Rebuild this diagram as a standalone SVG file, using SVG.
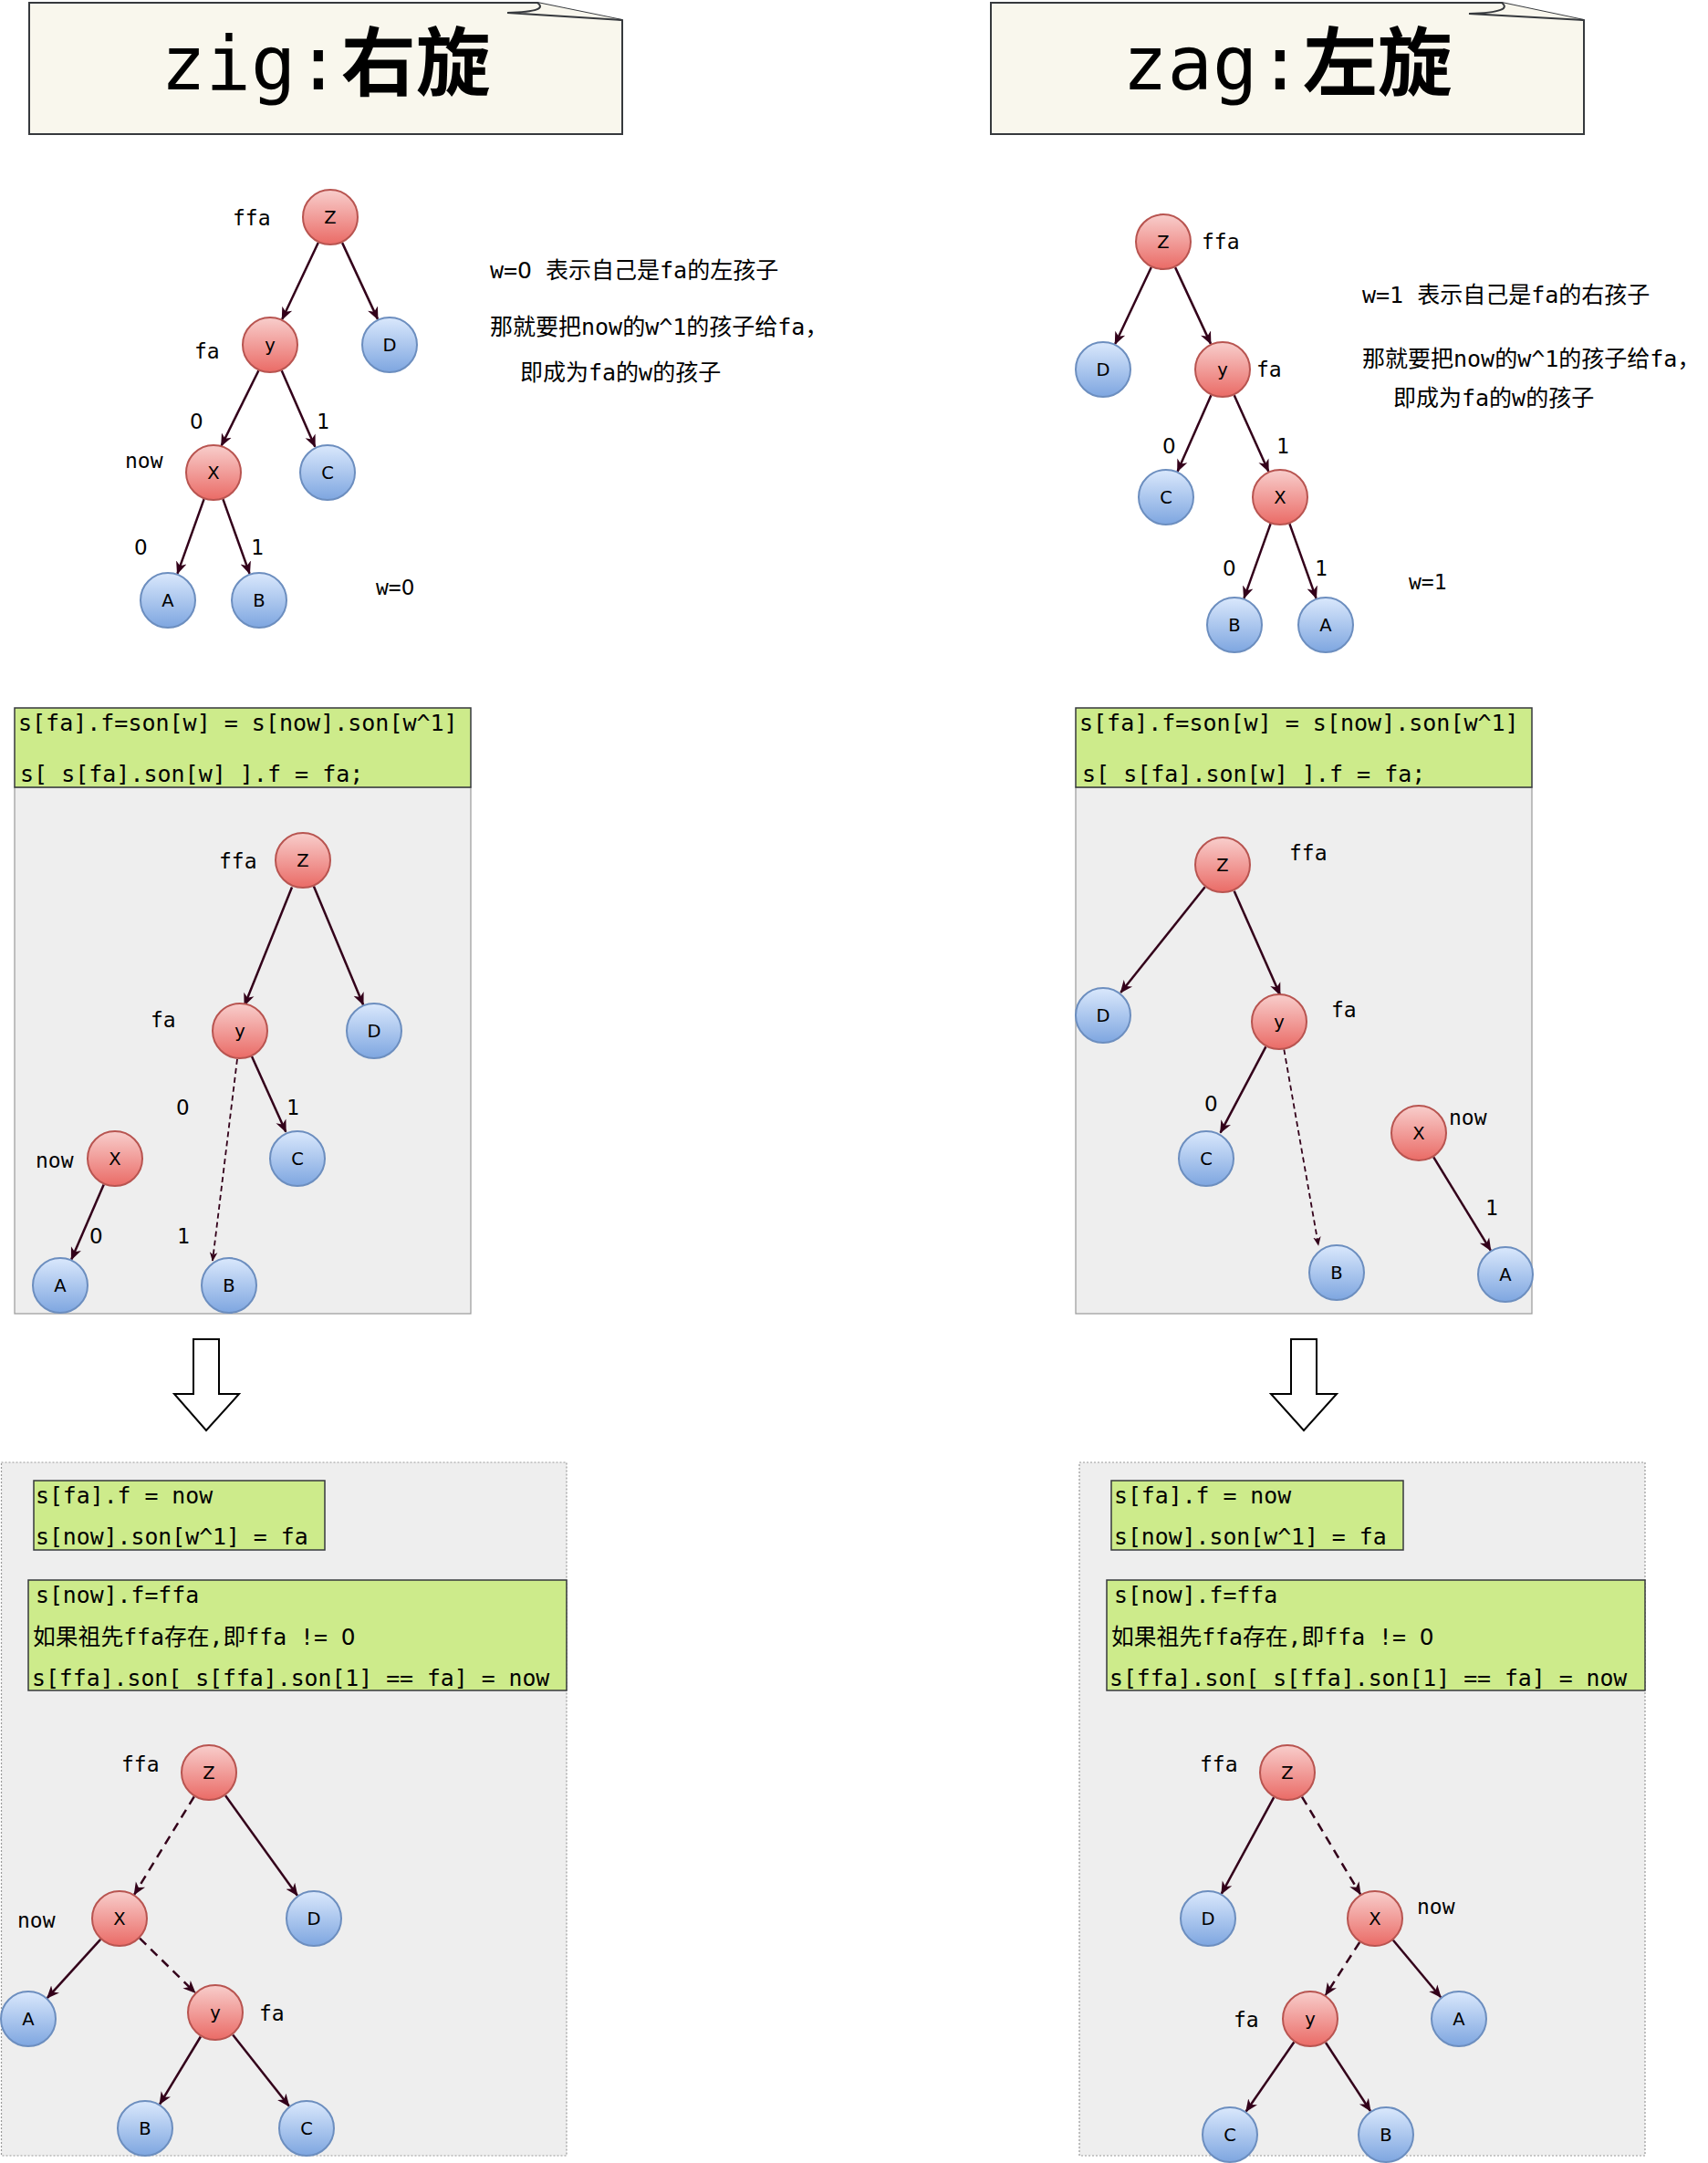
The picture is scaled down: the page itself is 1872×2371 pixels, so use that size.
<svg xmlns="http://www.w3.org/2000/svg" width="1872" height="2371" viewBox="0 0 1872 2371">
<style>
.edge{stroke:#33001a;stroke-width:2.5;fill:none;marker-end:url(#ah)}
.dash{stroke-dasharray:10 7}
.dashs{stroke-width:1.8;stroke-dasharray:6 4;marker-end:url(#ahs)}
.red{fill:url(#gr);stroke:#b85450;stroke-width:2}
.blue{fill:url(#gb);stroke:#6c8ebf;stroke-width:2}
.nl{font-family:"DejaVu Sans",sans-serif;font-size:19.5px;text-anchor:middle;fill:#000}
.lb{font-family:"DejaVu Sans Mono",monospace;font-size:23px;fill:#000}
.dg{font-family:"DejaVu Sans",sans-serif;font-size:23px;fill:#000}
.z{font-family:"DejaVu Sans",sans-serif}
.code{font-family:"DejaVu Sans Mono","Noto Sans CJK SC",monospace;font-size:25px;fill:#000}
.code2{font-family:"DejaVu Sans Mono","Noto Sans CJK SC",monospace;font-size:24.8px;fill:#000}
.ann{font-family:"DejaVu Sans Mono","Noto Sans CJK SC",monospace;font-size:25px;fill:#000}
.title{font-family:"DejaVu Sans Mono","Noto Sans CJK SC",monospace;font-size:82px;text-anchor:middle;fill:#000}
.note{fill:#f9f7ed;stroke:#36393d;stroke-width:2}
.green{fill:#cdeb8b;stroke:#36393d;stroke-width:1.5}
.gray{fill:#eeeeee;stroke:#999999;stroke-width:1.2}
.grayd{fill:#eeeeee;stroke:#999999;stroke-width:1.2;stroke-dasharray:2 2}
.barrow{fill:#ffffff;stroke:#000000;stroke-width:2}
</style>
<defs>
<linearGradient id="gr" x1="0" y1="0" x2="0" y2="1"><stop offset="0" stop-color="#f8cecc"/><stop offset="1" stop-color="#ea6b66"/></linearGradient>
<linearGradient id="gb" x1="0" y1="0" x2="0" y2="1"><stop offset="0" stop-color="#dae8fc"/><stop offset="1" stop-color="#7ea6e0"/></linearGradient>
<marker id="ah" viewBox="0 0 14 14" refX="13" refY="7" markerWidth="14" markerHeight="14" markerUnits="userSpaceOnUse" orient="auto"><path d="M0,1 L14,7 L0,13 L4,7 Z" fill="#33001a"/></marker>
<marker id="ahs" viewBox="0 0 14 14" refX="13" refY="7" markerWidth="10" markerHeight="10" markerUnits="userSpaceOnUse" orient="auto"><path d="M0,1 L14,7 L0,13 L4,7 Z" fill="#33001a"/></marker>
</defs>
<rect width="1872" height="2371" fill="#ffffff"/>

<!-- titles -->
<g id="title-zig">
<path class="note" d="M32,3 L589,3 L682,22 L682,147 L32,147 Z"/>
<path class="note" d="M589,3 C597,9 590,13 556,14 L682,22"/>
<text class="title" x="357" y="98">zig:<tspan font-weight="bold">右旋</tspan></text>
</g>
<g id="title-zag">
<path class="note" d="M1086,3 L1646,3 L1736,22 L1736,147 L1086,147 Z"/>
<path class="note" d="M1646,3 C1654,9 1646,14 1610,15 L1736,22"/>
<text class="title" x="1411" y="98">zag:<tspan font-weight="bold">左旋</tspan></text>
</g>

<!-- panels -->
<g id="panel-c">
<rect class="gray" x="16" y="863" width="500" height="577"/>
<rect class="green" x="16" y="776" width="500" height="87"/>
<text class="code" x="20" y="801" xml:space="preserve">s[fa].f=son[w] = s[now].son[w^1]</text>
<text class="code" x="22" y="857" xml:space="preserve">s[ s[fa].son[w] ].f = fa;</text>
</g>
<g id="panel-d">
<rect class="gray" x="1179" y="863" width="500" height="577"/>
<rect class="green" x="1179" y="776" width="500" height="87"/>
<text class="code" x="1183" y="801" xml:space="preserve">s[fa].f=son[w] = s[now].son[w^1]</text>
<text class="code" x="1186" y="857" xml:space="preserve">s[ s[fa].son[w] ].f = fa;</text>
</g>
<g id="panel-e">
<rect class="grayd" x="1.5" y="1603" width="619.5" height="760"/>
<rect class="green" x="37" y="1623" width="319" height="76"/>
<text class="code2" x="39" y="1648" xml:space="preserve">s[fa].f = now</text>
<text class="code2" x="39" y="1693" xml:space="preserve">s[now].son[w^1] = fa</text>
<rect class="green" x="31" y="1732" width="590" height="121"/>
<text class="code2" x="39" y="1757" xml:space="preserve">s[now].f=ffa</text>
<text class="code2" x="36" y="1803" xml:space="preserve">如果祖先ffa存在,即ffa != <tspan class="z">0</tspan></text>
<text class="code2" x="35" y="1848" xml:space="preserve">s[ffa].son[ s[ffa].son[1] == fa] = now</text>
</g>
<g id="panel-f">
<rect class="grayd" x="1183" y="1603" width="620" height="760"/>
<rect class="green" x="1218" y="1623" width="320" height="76"/>
<text class="code2" x="1221" y="1648" xml:space="preserve">s[fa].f = now</text>
<text class="code2" x="1221" y="1693" xml:space="preserve">s[now].son[w^1] = fa</text>
<rect class="green" x="1213" y="1732" width="590" height="121"/>
<text class="code2" x="1221" y="1757" xml:space="preserve">s[now].f=ffa</text>
<text class="code2" x="1218" y="1803" xml:space="preserve">如果祖先ffa存在,即ffa != <tspan class="z">0</tspan></text>
<text class="code2" x="1216" y="1848" xml:space="preserve">s[ffa].son[ s[ffa].son[1] == fa] = now</text>
</g>

<!-- block arrows -->
<g id="down-arrow-left"><path class="barrow" d="M212,1468 L240,1468 L240,1528 L262,1528 L226,1568 L191,1528 L212,1528 Z"/></g>
<g id="down-arrow-right"><path class="barrow" d="M1415,1468 L1443,1468 L1443,1528 L1465,1528 L1429,1568 L1393,1528 L1415,1528 Z"/></g>

<!-- annotations -->
<g id="annotations">
<text class="ann" x="537" y="305" xml:space="preserve">w=<tspan class="z">0</tspan> 表示自己是fa的左孩子</text>
<text class="ann" x="537" y="367">那就要把now的w^1的孩子给fa，</text>
<text class="ann" x="570" y="417">即成为fa的w的孩子</text>
<text class="ann" x="1493" y="332" xml:space="preserve">w=1 表示自己是fa的右孩子</text>
<text class="ann" x="1493" y="402">那就要把now的w^1的孩子给fa，</text>
<text class="ann" x="1527" y="445">即成为fa的w的孩子</text>
<text class="lb" x="412" y="652">w=<tspan class="z">0</tspan></text>
<text class="lb" x="1544" y="646">w=1</text>
</g>

<!-- connectors -->
<g id="connectors">
<line class="edge" x1="348.8" y1="266" x2="309.2" y2="350"/>
<line class="edge" x1="375.1" y1="266.1" x2="414" y2="349.9"/>
<line class="edge" x1="283.4" y1="406.3" x2="242.6" y2="488.7"/>
<line class="edge" x1="308.7" y1="406.3" x2="345.3" y2="489.7"/>
<line class="edge" x1="223.6" y1="547.2" x2="194.4" y2="628.8"/>
<line class="edge" x1="244.4" y1="547.2" x2="273.6" y2="628.8"/>

<line class="edge" x1="1261.8" y1="293" x2="1222.2" y2="377"/>
<line class="edge" x1="1288.1" y1="293.1" x2="1327" y2="376.9"/>
<line class="edge" x1="1327.4" y1="433.3" x2="1290.6" y2="516.7"/>
<line class="edge" x1="1352.7" y1="433.3" x2="1390.3" y2="516.7"/>
<line class="edge" x1="1392.6" y1="574.2" x2="1363.4" y2="655.8"/>
<line class="edge" x1="1413.4" y1="574.2" x2="1442.6" y2="655.8"/>

<line class="edge" x1="320" y1="972.5" x2="268" y2="1102"/>
<line class="edge" x1="343.9" y1="971.6" x2="398.1" y2="1101.4"/>
<line class="edge" x1="276" y1="1158" x2="313.3" y2="1240.7"/>
<line class="edge dashs" x1="260" y1="1161" x2="233" y2="1382"/>
<line class="edge" x1="113.7" y1="1298.5" x2="78.3" y2="1380.5"/>

<line class="edge" x1="1320.7" y1="972.3" x2="1228.3" y2="1088"/>
<line class="edge" x1="1352.7" y1="976.8" x2="1403" y2="1090.5"/>
<line class="edge" x1="1387.4" y1="1147.4" x2="1337.6" y2="1241.6"/>
<line class="edge dashs" x1="1407.3" y1="1150.3" x2="1445" y2="1365"/>
<line class="edge" x1="1571.2" y1="1268.4" x2="1633.8" y2="1370.6"/>

<line class="edge dash" x1="212.8" y1="1969.4" x2="147.2" y2="2076.6"/>
<line class="edge" x1="247.1" y1="1968.2" x2="325.9" y2="2077.8"/>
<line class="edge" x1="110.2" y1="2125.9" x2="51.8" y2="2190.1"/>
<line class="edge dash" x1="153.1" y1="2124.7" x2="213.9" y2="2184.3"/>
<line class="edge" x1="219.9" y1="2232.5" x2="175.1" y2="2306.5"/>
<line class="edge" x1="255.2" y1="2230.4" x2="316.8" y2="2308.6"/>

<line class="edge" x1="1396.2" y1="1970.2" x2="1338.8" y2="2075.8"/>
<line class="edge dash" x1="1427" y1="1969.6" x2="1491" y2="2076.4"/>
<line class="edge dash" x1="1490.2" y1="2129" x2="1452.8" y2="2187"/>
<line class="edge" x1="1526.9" y1="2126.8" x2="1579.1" y2="2189.2"/>
<line class="edge" x1="1418.3" y1="2238.5" x2="1365.7" y2="2314.5"/>
<line class="edge" x1="1453" y1="2239" x2="1502" y2="2314"/>
</g>

<!-- labels -->
<g id="labels">
<text class="lb" x="255" y="247">ffa</text><text class="lb" x="213" y="393">fa</text>
<text class="dg" x="208" y="470">0</text><text class="lb" x="347" y="470">1</text>
<text class="lb" x="137" y="513">now</text>
<text class="dg" x="147" y="608">0</text><text class="lb" x="275" y="608">1</text>

<text class="lb" x="1317" y="273">ffa</text><text class="lb" x="1377" y="413">fa</text>
<text class="dg" x="1274" y="497">0</text><text class="lb" x="1399" y="497">1</text>
<text class="dg" x="1340" y="631">0</text><text class="lb" x="1441" y="631">1</text>

<text class="lb" x="240" y="952">ffa</text><text class="lb" x="165" y="1126">fa</text>
<text class="dg" x="193" y="1222">0</text><text class="lb" x="314" y="1222">1</text>
<text class="lb" x="39" y="1280">now</text>
<text class="dg" x="98" y="1363">0</text><text class="lb" x="194" y="1363">1</text>

<text class="lb" x="1413" y="943">ffa</text><text class="lb" x="1459" y="1115">fa</text>
<text class="dg" x="1320" y="1218">0</text><text class="lb" x="1588" y="1233">now</text>
<text class="lb" x="1628" y="1332">1</text>

<text class="lb" x="133" y="1942">ffa</text><text class="lb" x="19" y="2113">now</text>
<text class="lb" x="284" y="2215">fa</text>

<text class="lb" x="1315" y="1942">ffa</text><text class="lb" x="1553" y="2098">now</text>
<text class="lb" x="1352" y="2222">fa</text>
</g>

<!-- nodes: top-left -->
<g id="a-z"><circle class="red" cx="362" cy="238" r="30"/><text class="nl" x="362" y="245">Z</text></g>
<g id="a-y"><circle class="red" cx="296" cy="378" r="30"/><text class="nl" x="296" y="385">y</text></g>
<g id="a-d"><circle class="blue" cx="427" cy="378" r="30"/><text class="nl" x="427" y="385">D</text></g>
<g id="a-x"><circle class="red" cx="234" cy="518" r="30"/><text class="nl" x="234" y="525">X</text></g>
<g id="a-c"><circle class="blue" cx="359" cy="518" r="30"/><text class="nl" x="359" y="525">C</text></g>
<g id="a-a"><circle class="blue" cx="184" cy="658" r="30"/><text class="nl" x="184" y="665">A</text></g>
<g id="a-b"><circle class="blue" cx="284" cy="658" r="30"/><text class="nl" x="284" y="665">B</text></g>

<!-- nodes: top-right -->
<g id="b-z"><circle class="red" cx="1275" cy="265" r="30"/><text class="nl" x="1275" y="272">Z</text></g>
<g id="b-d"><circle class="blue" cx="1209" cy="405" r="30"/><text class="nl" x="1209" y="412">D</text></g>
<g id="b-y"><circle class="red" cx="1340" cy="405" r="30"/><text class="nl" x="1340" y="412">y</text></g>
<g id="b-c"><circle class="blue" cx="1278" cy="545" r="30"/><text class="nl" x="1278" y="552">C</text></g>
<g id="b-x"><circle class="red" cx="1403" cy="545" r="30"/><text class="nl" x="1403" y="552">X</text></g>
<g id="b-b"><circle class="blue" cx="1353" cy="685" r="30"/><text class="nl" x="1353" y="692">B</text></g>
<g id="b-a"><circle class="blue" cx="1453" cy="685" r="30"/><text class="nl" x="1453" y="692">A</text></g>

<!-- nodes: middle-left -->
<g id="c-z"><circle class="red" cx="332" cy="943" r="30"/><text class="nl" x="332" y="950">Z</text></g>
<g id="c-y"><circle class="red" cx="263" cy="1130" r="30"/><text class="nl" x="263" y="1137">y</text></g>
<g id="c-d"><circle class="blue" cx="410" cy="1130" r="30"/><text class="nl" x="410" y="1137">D</text></g>
<g id="c-x"><circle class="red" cx="126" cy="1270" r="30"/><text class="nl" x="126" y="1277">X</text></g>
<g id="c-c"><circle class="blue" cx="326" cy="1270" r="30"/><text class="nl" x="326" y="1277">C</text></g>
<g id="c-a"><circle class="blue" cx="66" cy="1409" r="30"/><text class="nl" x="66" y="1416">A</text></g>
<g id="c-b"><circle class="blue" cx="251" cy="1409" r="30"/><text class="nl" x="251" y="1416">B</text></g>

<!-- nodes: middle-right -->
<g id="d-z"><circle class="red" cx="1340" cy="948" r="30"/><text class="nl" x="1340" y="955">Z</text></g>
<g id="d-d"><circle class="blue" cx="1209" cy="1113" r="30"/><text class="nl" x="1209" y="1120">D</text></g>
<g id="d-y"><circle class="red" cx="1402" cy="1120" r="30"/><text class="nl" x="1402" y="1127">y</text></g>
<g id="d-c"><circle class="blue" cx="1322" cy="1270" r="30"/><text class="nl" x="1322" y="1277">C</text></g>
<g id="d-x"><circle class="red" cx="1555" cy="1242" r="30"/><text class="nl" x="1555" y="1249">X</text></g>
<g id="d-b"><circle class="blue" cx="1465" cy="1395" r="30"/><text class="nl" x="1465" y="1402">B</text></g>
<g id="d-a"><circle class="blue" cx="1650" cy="1397" r="30"/><text class="nl" x="1650" y="1404">A</text></g>

<!-- nodes: bottom-left -->
<g id="e-z"><circle class="red" cx="229" cy="1943" r="30"/><text class="nl" x="229" y="1950">Z</text></g>
<g id="e-x"><circle class="red" cx="131" cy="2103" r="30"/><text class="nl" x="131" y="2110">X</text></g>
<g id="e-d"><circle class="blue" cx="344" cy="2103" r="30"/><text class="nl" x="344" y="2110">D</text></g>
<g id="e-a"><circle class="blue" cx="31" cy="2213" r="30"/><text class="nl" x="31" y="2220">A</text></g>
<g id="e-y"><circle class="red" cx="236" cy="2206" r="30"/><text class="nl" x="236" y="2213">y</text></g>
<g id="e-b"><circle class="blue" cx="159" cy="2333" r="30"/><text class="nl" x="159" y="2340">B</text></g>
<g id="e-c"><circle class="blue" cx="336" cy="2333" r="30"/><text class="nl" x="336" y="2340">C</text></g>

<!-- nodes: bottom-right -->
<g id="f-z"><circle class="red" cx="1411" cy="1943" r="30"/><text class="nl" x="1411" y="1950">Z</text></g>
<g id="f-d"><circle class="blue" cx="1324" cy="2103" r="30"/><text class="nl" x="1324" y="2110">D</text></g>
<g id="f-x"><circle class="red" cx="1507" cy="2103" r="30"/><text class="nl" x="1507" y="2110">X</text></g>
<g id="f-y"><circle class="red" cx="1436" cy="2213" r="30"/><text class="nl" x="1436" y="2220">y</text></g>
<g id="f-a"><circle class="blue" cx="1599" cy="2213" r="30"/><text class="nl" x="1599" y="2220">A</text></g>
<g id="f-c"><circle class="blue" cx="1348" cy="2340" r="30"/><text class="nl" x="1348" y="2347">C</text></g>
<g id="f-b"><circle class="blue" cx="1519" cy="2340" r="30"/><text class="nl" x="1519" y="2347">B</text></g>
</svg>
